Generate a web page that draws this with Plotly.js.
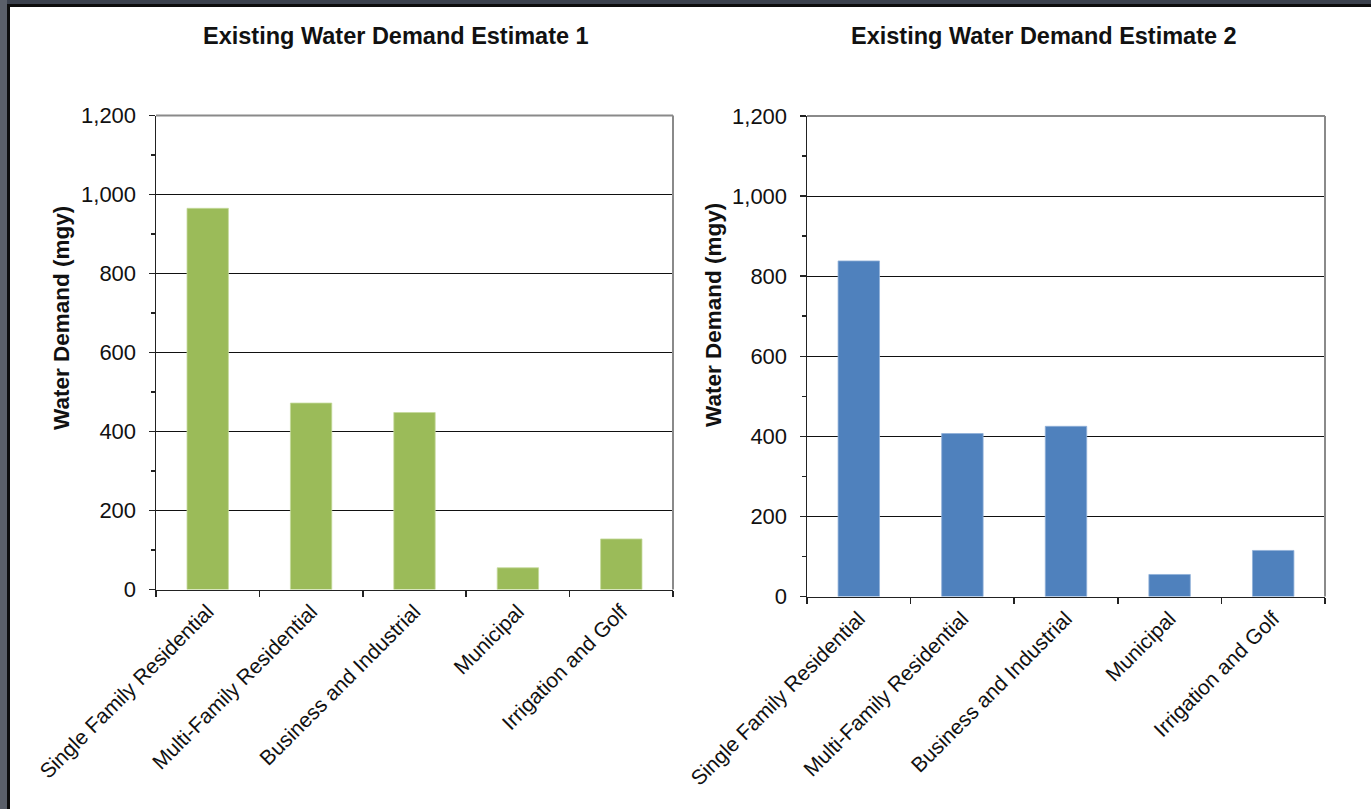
<!DOCTYPE html>
<html>
<head>
<meta charset="utf-8">
<script src="https://cdn.plot.ly/plotly-3.0.1.min.js"></script>
<style>
  html, body { margin: 0; padding: 0; background: #ffffff; }
  #chart { width: 1371px; height: 809px; }
</style>
</head>
<body>
<div id="chart"></div>
<script>
// Water use categories (shared by both estimates)
const categories = [
  "Single Family Residential",
  "Multi-Family Residential",
  "Business and Industrial",
  "Municipal",
  "Irrigation and Golf"
];

// Annual demand, million gallons per year
const estimate1 = [965, 472, 448, 55, 128];
const estimate2 = [838, 407, 425, 55, 115];

const chartTitles = ["Existing Water Demand Estimate 1", "Existing Water Demand Estimate 2"];
const yTitle = "Water Demand (mgy)";

const W = 1371, H = 809;
const px = v => v / W;
const py = v => 1 - v / H;

const FONT = '"Liberation Sans", Arial, sans-serif';
const INK = '#111111';

function xAxis(domain, anchor) {
  return {
    domain: domain,
    anchor: anchor,
    type: 'category',
    range: [-0.5, 4.5],
    showline: true,
    linecolor: '#222222',
    linewidth: 1.5,
    ticks: 'outside',
    tickson: 'boundaries',
    ticklen: 6,
    tickwidth: 1.5,
    tickcolor: '#222222',
    tickangle: -45,
    tickfont: { family: FONT, size: 21, color: INK },
    showgrid: false,
    zeroline: false,
    fixedrange: true
  };
}

function yAxis(domain, anchor) {
  return {
    domain: domain,
    anchor: anchor,
    range: [0, 1200],
    tickvals: [0, 200, 400, 600, 800, 1000, 1200],
    tickformat: ',d',
    showline: true,
    linecolor: '#222222',
    linewidth: 1.5,
    ticks: 'outside',
    ticklen: 6,
    tickwidth: 1.5,
    tickcolor: '#222222',
    ticklabelstandoff: 8,
    tickfont: { family: FONT, size: 22, color: INK },
    minor: { tickvals: [100, 300, 500, 700, 900, 1100], ticks: 'outside', ticklen: 4, tickwidth: 1.5, tickcolor: '#222222', showgrid: false },
    showgrid: true,
    gridcolor: '#111111',
    gridwidth: 1,
    zeroline: false,
    fixedrange: true
  };
}

const traces = [
  {
    type: 'bar',
    x: categories,
    y: estimate1,
    xaxis: 'x',
    yaxis: 'y',
    marker: { color: '#9BBB59', line: { color: '#c4d99a', width: 0.8 } },
    hoverinfo: 'x+y'
  },
  {
    type: 'bar',
    x: categories,
    y: estimate2,
    xaxis: 'x2',
    yaxis: 'y2',
    marker: { color: '#4F81BD', line: { color: '#8fb0d8', width: 0.8 } },
    hoverinfo: 'x+y'
  }
];

// Top and right edges of each plot box are drawn in a lighter grey
function boxEdges(xr, yr) {
  const style = { color: '#8a8a8a', width: 2 };
  return [
    { type: 'line', xref: xr + ' domain', yref: yr + ' domain', x0: 0, x1: 1, y0: 1, y1: 1, line: style, layer: 'above' },
    { type: 'line', xref: xr + ' domain', yref: yr + ' domain', x0: 1, x1: 1, y0: 0, y1: 1, line: style, layer: 'above' }
  ];
}

// Dark frame along the top and left of the page
const frame = [
  { type: 'rect', xref: 'paper', yref: 'paper', x0: 0, x1: 1, y0: py(4), y1: 1, fillcolor: '#3b414d', line: { width: 0 }, layer: 'above' },
  { type: 'rect', xref: 'paper', yref: 'paper', x0: 0, x1: px(7), y0: 0, y1: 1, fillcolor: '#5a5f69', line: { width: 0 }, layer: 'above' },
  { type: 'rect', xref: 'paper', yref: 'paper', x0: px(7), x1: 1, y0: py(7), y1: py(4), fillcolor: '#0d0d0d', line: { width: 0 }, layer: 'above' },
  { type: 'rect', xref: 'paper', yref: 'paper', x0: px(7), x1: px(10), y0: 0, y1: py(4), fillcolor: '#0d0d0d', line: { width: 0 }, layer: 'above' }
];

const annotations = [
  { text: chartTitles[0], xref: 'paper', yref: 'paper', x: px(396), y: py(36), showarrow: false,
    font: { family: FONT, size: 23.5, color: INK, weight: 'bold' }, xanchor: 'center', yanchor: 'middle' },
  { text: chartTitles[1], xref: 'paper', yref: 'paper', x: px(1044), y: py(36), showarrow: false,
    font: { family: FONT, size: 23.5, color: INK, weight: 'bold' }, xanchor: 'center', yanchor: 'middle' },
  { text: yTitle, xref: 'paper', yref: 'paper', x: px(62), y: py(318), textangle: -90, showarrow: false,
    font: { family: FONT, size: 22.5, color: INK, weight: 'bold' }, xanchor: 'center', yanchor: 'middle' },
  { text: yTitle, xref: 'paper', yref: 'paper', x: px(713), y: py(315), textangle: -90, showarrow: false,
    font: { family: FONT, size: 22.5, color: INK, weight: 'bold' }, xanchor: 'center', yanchor: 'middle' }
];

const layout = {
  width: W,
  height: H,
  margin: { l: 0, r: 0, t: 0, b: 0, pad: 0 },
  paper_bgcolor: '#ffffff',
  plot_bgcolor: '#ffffff',
  showlegend: false,
  bargap: 0.6,
  xaxis: xAxis([px(156), px(673)], 'y'),
  yaxis: yAxis([py(589.5), py(115.5)], 'x'),
  xaxis2: xAxis([px(807), px(1325)], 'y2'),
  yaxis2: yAxis([py(596.5), py(116)], 'x2'),
  shapes: boxEdges('x', 'y').concat(boxEdges('x2', 'y2')).concat(frame),
  annotations: annotations
};

Plotly.newPlot('chart', traces, layout, { displayModeBar: false, staticPlot: true });
</script>
</body>
</html>
